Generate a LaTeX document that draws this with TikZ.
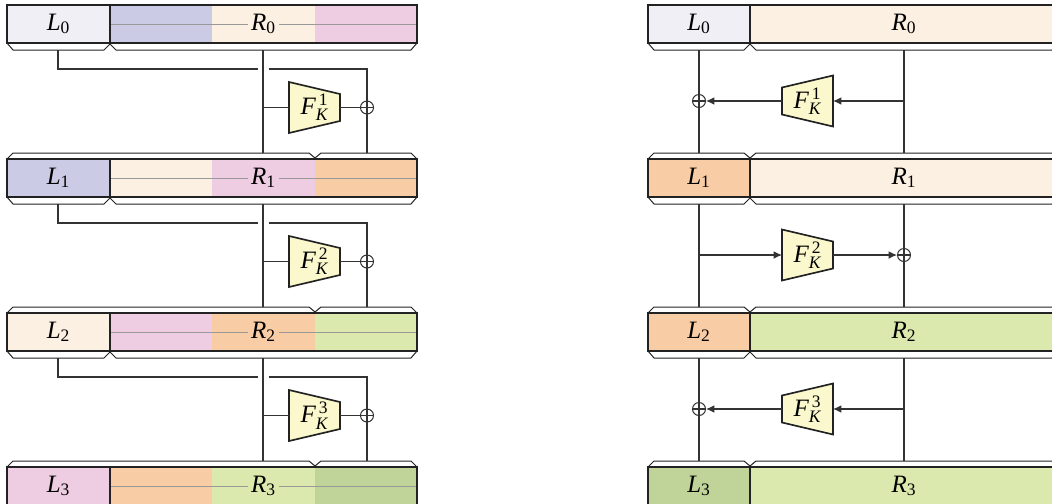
\documentclass[tikz,border=0pt]{standalone}
\usepackage{amsmath}
\usepackage{fontspec}
\setmainfont{Liberation Serif}
\usetikzlibrary{arrows.meta}
\definecolor{cLav}{HTML}{F0EFF5}
\definecolor{cBlue}{HTML}{CCCBE5}
\definecolor{cPeach}{HTML}{FCF0E3}
\definecolor{cPink}{HTML}{EECDE2}
\definecolor{cOrange}{HTML}{F8CCA5}
\definecolor{cGreen}{HTML}{DCE9AE}
\definecolor{cDGreen}{HTML}{C0D49A}
\definecolor{cFun}{HTML}{FAF8CC}
\definecolor{cInk}{HTML}{222222}
\definecolor{cWire}{HTML}{333333}
\newcommand{\Lb}[2]{$\textit{#1}_{\text{#2}}$}
\newcommand{\Fk}[1]{$\textit{F}^{\,\text{#1}}_{\textit{K}}$}
\begin{document}
\begin{tikzpicture}[x=0.6pt,y=-0.6pt,
  lbl/.style={inner sep=1pt, font=\fontsize{15}{17}\selectfont},
  boxline/.style={draw=cInk, line width=1.2pt},
  brk/.style={draw=cInk, line width=0.6pt, line join=miter},
  wire/.style={draw=cWire, line width=0.65pt},
  midline/.style={draw=gray!80, line width=0.5pt},
  fbox/.style={draw=cInk, fill=cFun, line width=1pt, line join=miter},
  oplus/.style={circle, draw=cWire, line width=0.6pt, minimum size=7.8pt, inner sep=0pt},
  arr/.style={wire, -{Latex[length=5pt,width=4.6pt]}}
]
\useasboundingbox (0,0) rectangle (1052,503);
\clip (0,0) rectangle (1052,503);

% ---------------- left diagram boxes ----------------
\foreach \i/\a/\b/\c/\d in {0/cLav/cBlue/cPeach/cPink,1/cBlue/cPeach/cPink/cOrange,2/cPeach/cPink/cOrange/cGreen,3/cPink/cOrange/cGreen/cDGreen}{
  \pgfmathsetmacro\T{5+154*\i}
  \pgfmathsetmacro\B{\T+38}
  \pgfmathsetmacro\M{\T+19}
  \fill[\a] (7,\T) rectangle (110,\B);
  \fill[\b] (110,\T) rectangle (212,\B);
  \fill[\c] (212,\T) rectangle (315,\B);
  \fill[\d] (315,\T) rectangle (417,\B);
  \draw[midline] (110,\M) -- (417,\M);
  \node[lbl] (lL\i) at (58.5,\M) {\Lb{L}{\i}};
  \node[lbl, fill=\c, inner xsep=2pt] (lR\i) at (263.5,\M) {\Lb{R}{\i}};
  \draw[boxline] (7,\T) rectangle (417,\B);
  \draw[boxline] (110,\T) -- (110,\B);
}
% lower brackets (left)
\foreach \i in {0,1,2}{
  \pgfmathsetmacro\B{43+154*\i}
  \draw[brk] (7,\B) -- (13,\B+7) -- (104,\B+7) -- (110,\B+1) -- (116,\B+7) -- (411,\B+7) -- (417,\B);
}
% upper brackets (left)
\foreach \i in {1,2,3}{
  \pgfmathsetmacro\T{5+154*\i}
  \draw[brk] (7,\T) -- (13,\T-6) -- (309,\T-6) -- (315,\T-1) -- (321,\T-6) -- (411,\T-6) -- (417,\T);
}
% rounds (left)
\foreach \i/\n in {0/1,1/2,2/3}{
  \pgfmathsetmacro\B{43+154*\i}
  \pgfmathsetmacro\H{\B+26}
  \pgfmathsetmacro\Y{\B+64.5}
  \pgfmathsetmacro\E{\B+110}
  \coordinate (lLs\i) at (58,\B+7);
  \coordinate (lRs\i) at (263,\B+7);
  \coordinate (lRe\i) at (263,\E);
  \coordinate (lXe\i) at (367,\E);
  \coordinate (lJa\i) at (257.5,\H);
  \coordinate (lJb\i) at (268.5,\H);
  \coordinate (lBr\i) at (263,\Y);
  \coordinate (lFc\i) at (314.5,\Y);
  \draw[fbox] ([xshift=-25.5*0.6pt,yshift=25.5*0.6pt]lFc\i) -- ([xshift=25.5*0.6pt,yshift=13.5*0.6pt]lFc\i)
     -- ([xshift=25.5*0.6pt,yshift=-13.5*0.6pt]lFc\i) -- ([xshift=-25.5*0.6pt,yshift=-25.5*0.6pt]lFc\i) -- cycle;
  \node[lbl] (lF\i) at (lFc\i) {\Fk{\n}};
  \coordinate (lFw\i) at ([xshift=-25.5*0.6pt]lFc\i);
  \coordinate (lFe\i) at ([xshift=25.5*0.6pt]lFc\i);
  \node[oplus] (lX\i) at (367,\Y) {};
  \draw[wire] (lX\i.north) -- (lX\i.south) (lX\i.west) -- (lX\i.east);
  \draw[wire] (lLs\i) |- (lJa\i);
  \draw[wire] (lJb\i) -| (lX\i.north);
  \draw[wire] (lX\i.south) -- (lXe\i);
  \draw[wire] (lRs\i) -- (lRe\i);
  \draw[wire] (lBr\i) -- (lFw\i);
  \draw[wire] (lFe\i) -- (lX\i.west);
}

% ---------------- right diagram boxes ----------------
\foreach \i/\a/\b in {0/cLav/cPeach,1/cOrange/cPeach,2/cOrange/cGreen,3/cDGreen/cGreen}{
  \pgfmathsetmacro\T{5+154*\i}
  \pgfmathsetmacro\B{\T+38}
  \pgfmathsetmacro\M{\T+19}
  \fill[\a] (648,\T) rectangle (750,\B);
  \fill[\b] (750,\T) rectangle (1058,\B);
  \node[lbl] (rL\i) at (699,\M) {\Lb{L}{\i}};
  \node[lbl] (rR\i) at (904,\M) {\Lb{R}{\i}};
  \draw[boxline] (648,\T) rectangle (1058,\B);
  \draw[boxline] (750,\T) -- (750,\B);
}
\foreach \i in {0,1,2}{
  \pgfmathsetmacro\B{43+154*\i}
  \draw[brk] (648,\B) -- (654,\B+7) -- (744,\B+7) -- (750,\B+1) -- (756,\B+7) -- (1052,\B+7) -- (1058,\B);
}
\foreach \i in {1,2,3}{
  \pgfmathsetmacro\T{5+154*\i}
  \draw[brk] (648,\T) -- (654,\T-6) -- (744,\T-6) -- (750,\T-1) -- (756,\T-6) -- (1052,\T-6) -- (1058,\T);
}
% rounds (right)
\foreach \i/\n/\s in {0/1/1,1/2/-1,2/3/1}{
  \pgfmathsetmacro\B{43+154*\i}
  \pgfmathsetmacro\Y{\B+58}
  \pgfmathsetmacro\E{\B+110}
  \pgfmathsetmacro\hl{19.5-6*\s}
  \pgfmathsetmacro\hr{19.5+6*\s}
  \coordinate (rLs\i) at (699,\B+7);
  \coordinate (rLe\i) at (699,\E);
  \coordinate (rRs\i) at (904,\B+7);
  \coordinate (rRe\i) at (904,\E);
  \coordinate (rLm\i) at (699,\Y);
  \coordinate (rRm\i) at (904,\Y);
  \coordinate (rFc\i) at (807.5,\Y);
  \draw[fbox] ([xshift=-25.5*0.6pt,yshift=\hl*0.6pt]rFc\i) -- ([xshift=25.5*0.6pt,yshift=\hr*0.6pt]rFc\i)
     -- ([xshift=25.5*0.6pt,yshift=-\hr*0.6pt]rFc\i) -- ([xshift=-25.5*0.6pt,yshift=-\hl*0.6pt]rFc\i) -- cycle;
  \node[lbl] (rF\i) at (rFc\i) {\Fk{\n}};
  \coordinate (rFw\i) at ([xshift=-25.5*0.6pt]rFc\i);
  \coordinate (rFe\i) at ([xshift=25.5*0.6pt]rFc\i);
}
\foreach \i in {0,2}{
  \node[oplus] (rX\i) at (rLm\i) {};
  \draw[wire] (rX\i.west) -- (rX\i.east);
  \draw[wire] (rLs\i) -- (rX\i.north);
  \draw[wire] (rX\i.north) -- (rX\i.south);
  \draw[wire] (rX\i.south) -- (rLe\i);
  \draw[wire] (rRs\i) -- (rRe\i);
  \draw[arr] (rRm\i) -- (rFe\i);
  \draw[arr] (rFw\i) -- (rX\i.east);
}
\foreach \i in {1}{
  \node[oplus] (rX\i) at (rRm\i) {};
  \draw[wire] (rX\i.west) -- (rX\i.east);
  \draw[wire] (rRs\i) -- (rX\i.north);
  \draw[wire] (rX\i.north) -- (rX\i.south);
  \draw[wire] (rX\i.south) -- (rRe\i);
  \draw[wire] (rLs\i) -- (rLe\i);
  \draw[arr] (rLm\i) -- (rFw\i);
  \draw[arr] (rFe\i) -- (rX\i.west);
}
\end{tikzpicture}
\end{document}
